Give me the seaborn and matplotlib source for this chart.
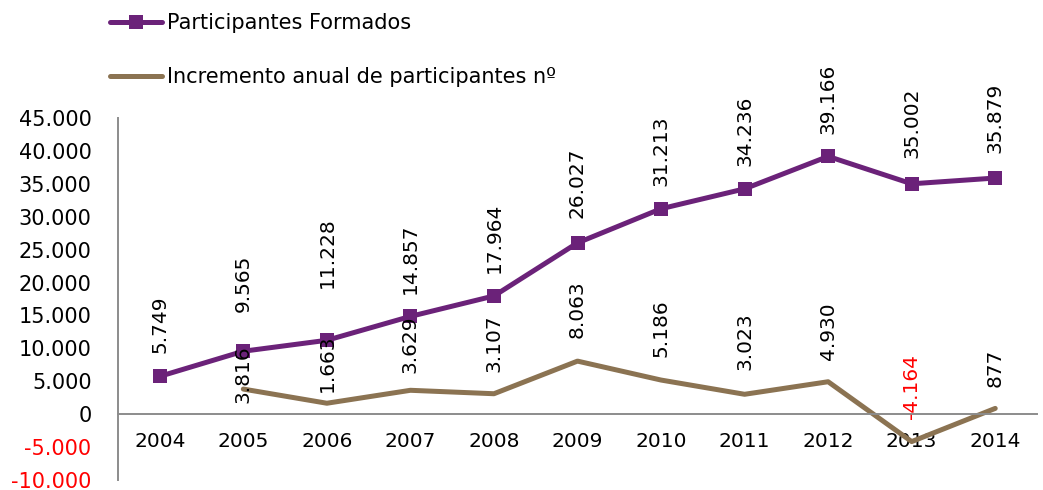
import numpy as np
import pandas as pd
import matplotlib
matplotlib.use("Agg")
import matplotlib.pyplot as plt
import seaborn as sns
from matplotlib.ticker import FixedLocator, FuncFormatter

years = ["2004", "2005", "2006", "2007", "2008", "2009", "2010", "2011", "2012", "2013", "2014"]
formados = [5749, 9565, 11228, 14857, 17964, 26027, 31213, 34236, 39166, 35002, 35879]
incremento = [None, 3816, 1663, 3629, 3107, 8063, 5186, 3023, 4930, -4164, 877]

# label offsets above each point, in pixels (as placed in the original)
off_formados = [23, 39, 52, 22, 23, 25, 23, 23, 22, 26, 25]
off_incremento = [None, -14, 11, 17, 22, 23, 23, 24, 22, 23, 21]

purple = "#6B2279"
brown = "#8B7352"
FS = 14.5

sns.set_style("white")
plt.rcParams["font.family"] = ["DejaVu Sans"]
plt.rcParams["text.color"] = "black"
plt.rcParams["xtick.labelcolor"] = "black"
plt.rcParams["ytick.labelcolor"] = "black"

df = pd.DataFrame({"pos": np.arange(len(years)), "year": years,
                   "formados": formados, "incremento": incremento})
df_inc = df.dropna(subset=["incremento"])

fig = plt.figure(figsize=(10.43, 4.90), dpi=100)
ax = fig.add_axes([118 / 1043, 10 / 490, (1037 - 118) / 1043, (480 - 118) / 490])

sns.lineplot(data=df, x="pos", y="formados", ax=ax, color=purple, lw=3.6,
             marker="s", markersize=9.5, markeredgewidth=0, label="Participantes Formados")
sns.lineplot(data=df_inc, x="pos", y="incremento", ax=ax, color=brown, lw=3.6,
             label="Incremento anual de participantes nº")

for i, v in enumerate(formados):
    ax.annotate(f"{v:,}".replace(",", "."), (i, v), xytext=(0, off_formados[i]),
                textcoords="offset pixels", rotation=90, ha="center", va="bottom",
                fontsize=FS, color="black")
for i, v in enumerate(incremento):
    if v is None:
        continue
    ax.annotate(f"{int(v):,}".replace(",", "."), (i, v), xytext=(0, off_incremento[i]),
                textcoords="offset pixels", rotation=90, ha="center", va="bottom",
                fontsize=FS, color="red" if v < 0 else "black")

ax.set_xlim(-0.5, len(years) - 0.5)
ax.set_ylim(-10000, 45000)
ax.set_xlabel("")
ax.set_ylabel("")

ax.set_yticks(np.arange(-10000, 45001, 5000))
ax.yaxis.set_major_formatter(FuncFormatter(lambda v, p: f"{int(v):,}".replace(",", ".")))
ax.set_xticks(np.arange(len(years)))
ax.set_xticklabels(years)
ax.xaxis.set_minor_locator(FixedLocator(np.arange(-0.5, len(years), 1.0)))

for s in ["top", "right"]:
    ax.spines[s].set_visible(False)
ax.spines["bottom"].set_position(("data", 0))
for s in ["left", "bottom"]:
    ax.spines[s].set_color("#8c8c8c")
    ax.spines[s].set_linewidth(1.4)

ax.tick_params(axis="x", which="major", length=0, pad=13, labelsize=FS)
ax.tick_params(axis="x", which="minor", length=5, width=1.4, color="#8c8c8c", direction="out")
ax.tick_params(axis="y", length=5, width=1.4, color="#8c8c8c", direction="out", pad=14, labelsize=15)
for lab, v in zip(ax.get_yticklabels(), np.arange(-10000, 45001, 5000)):
    if v < 0:
        lab.set_color("red")

handles, labels = ax.get_legend_handles_labels()
ax.get_legend().remove()
fig.legend(handles, labels, loc="upper left", bbox_to_anchor=(110 / 1043, 1 - 13 / 490),
           frameon=False, fontsize=15, borderpad=0, borderaxespad=0, labelspacing=1.65,
           handlelength=2.5, handletextpad=0.25)

fig.savefig("out.png", dpi=100)
